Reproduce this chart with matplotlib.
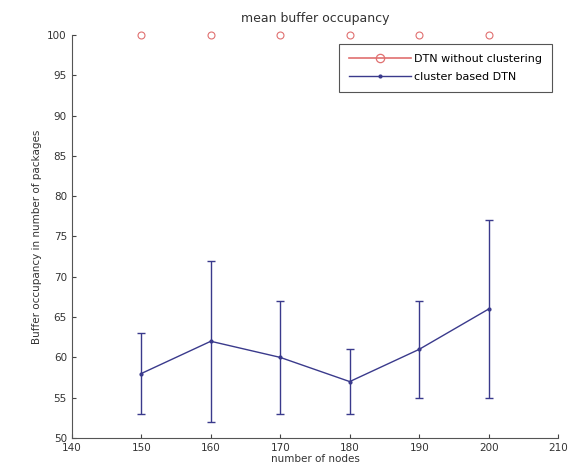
import matplotlib.pyplot as plt
from matplotlib.lines import Line2D
import numpy as np

nodes = [150, 160, 170, 180, 190, 200]
no_cluster = [100, 100, 100, 100, 100, 100]
cluster_mean = [58, 62, 60, 57, 61, 66]
cluster_low = [53, 52, 53, 53, 55, 55]
cluster_high = [63, 72, 67, 61, 67, 77]

cluster_mean = np.array(cluster_mean)
err = [cluster_mean - np.array(cluster_low), np.array(cluster_high) - cluster_mean]

plt.rcParams['font.family'] = 'DejaVu Sans'
plt.rcParams['font.size'] = 7.5

fig = plt.figure(figsize=(5.79, 4.65), dpi=100)
ax = fig.add_axes([0.124, 0.058, 0.84, 0.867])

red = '#e07070'
blue = '#3a3a8c'

# red series sits on the top edge, only the circles show
ax.plot(nodes, no_cluster, linestyle='none', color=red, marker='o', markersize=5,
        markerfacecolor='none', markeredgewidth=0.8, clip_on=False)
ax.errorbar(nodes, cluster_mean, yerr=err, color=blue, marker='.', markersize=4,
            linewidth=1.0, elinewidth=1.0, capsize=3)

ax.set_xlim(140, 210)
ax.set_ylim(50, 100)
ax.set_xticks(np.arange(140, 211, 10))
ax.set_yticks(np.arange(50, 101, 5))
ax.tick_params(direction='in', length=3, colors='#444444', labelcolor='#333333')
ax.spines['top'].set_visible(False)
ax.spines['right'].set_visible(False)
ax.spines['left'].set_color('#555555')
ax.spines['bottom'].set_color('#555555')

ax.set_xlabel('number of nodes', labelpad=1, color='#333333')
ax.set_ylabel('Buffer occupancy in number of packages', color='#333333')
ax.set_title('mean buffer occupancy', pad=9, color='#333333')

handles = [
    Line2D([], [], color=red, linewidth=1.2, marker='o', markersize=6,
           markerfacecolor='none', markeredgewidth=0.9),
    Line2D([], [], color=blue, linewidth=1.0, marker='.', markersize=4),
]
labels = ['DTN without clustering', 'cluster based DTN']
leg = ax.legend(handles, labels, loc='upper right', bbox_to_anchor=(0.988, 0.978),
                fancybox=False, fontsize=8, handlelength=5.6, handletextpad=0.3,
                borderpad=0.9, labelspacing=0.75, borderaxespad=0)
leg.get_frame().set_edgecolor('#555555')
leg.get_frame().set_linewidth(0.8)
leg.get_frame().set_alpha(1)

plt.savefig('out.png')
